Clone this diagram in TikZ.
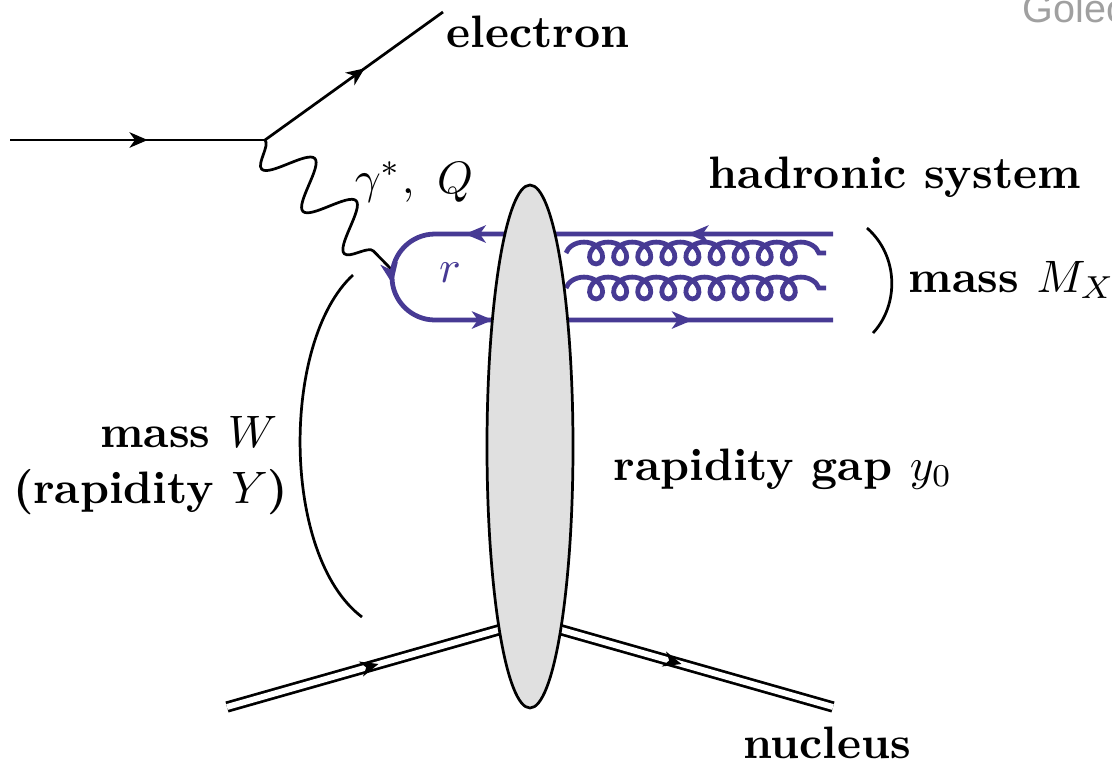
\documentclass[tikz,border=0pt]{standalone}
\usepackage{fontspec}
\newfontfamily\credfont{Liberation Sans}
\usetikzlibrary{arrows.meta,calc,positioning,decorations.pathmorphing,decorations.markings}
\definecolor{quark}{HTML}{473A94}
\definecolor{blob}{HTML}{E0E0E0}
\definecolor{credit}{HTML}{A0A0A0}
\tikzset{
 lep/.style={line width=.6pt},
 lab/.style={inner sep=0pt},
 midarr/.style={postaction={decorate},decoration={markings,mark=at position #1 with {\arrow{Stealth[length=4pt,width=3.4pt,inset=1.2pt]}}}},
 qline/.style={quark,line width=1.05pt},
 qarr/.style={postaction={decorate},decoration={markings,
  mark=at position 32pt with {\arrow{Stealth[length=4.6pt,width=3.8pt,inset=1.3pt]}},
  mark=at position 81pt with {\arrow{Stealth[length=4.6pt,width=3.8pt,inset=1.3pt]}},
  mark=at position 104pt with {\arrow{Stealth[length=4.6pt,width=3.8pt,inset=1.3pt]}},
  mark=at position 130pt with {\arrow{Stealth[length=4.6pt,width=3.8pt,inset=1.3pt]}},
  mark=at position 174pt with {\arrow{Stealth[length=4.6pt,width=3.8pt,inset=1.3pt]}}}},
 photon/.style={decorate,decoration={snake,mirror,segment length=13pt,amplitude=5pt}},
 gluon/.style={decorate,decoration={coil,aspect=1.1,segment length=5.3pt,amplitude=2.4pt}},
 nucl/.style={line width=.6pt,double=white,double distance=1.3pt}
}
\begin{document}
\begin{tikzpicture}[x=.22pt,y=.22pt,font=\bfseries]
 \useasboundingbox (0,0) rectangle (1112,761);
 \coordinate (ein) at (10,621); \coordinate (evtx) at (265,621); \coordinate (eout) at (443,749);
 \coordinate (gend) at (392,491);
 \coordinate (qtr) at (833,527); \coordinate (qtl) at (435,527); \coordinate (qbr) at (833,441);
 \coordinate (g1r) at (826,508); \coordinate (g1l) at (566,508);
 \coordinate (g2r) at (826,473); \coordinate (g2l) at (566,473);
 \coordinate (nin) at (227,54); \coordinate (nvtx) at (530,140); \coordinate (nout) at (833,54);
 \coordinate (blobc) at (530,314.5);
 \draw[lep,midarr=.54](ein)--(evtx);
 \draw[lep,midarr=.56](evtx)--(eout);
 \draw[lep,photon](evtx)--(gend);
 \draw[qline,qarr](qtr)--(qtl)arc[start angle=90,end angle=270,radius=43]--(qbr);
 \draw[qline,gluon](g1l)--(g1r);
 \draw[qline,gluon](g2l)--(g2r);
 \draw[nucl](nin)--(nvtx)--(nout);
 \path[midarr=.5](nin)--(nvtx);
 \path[midarr=.5](nvtx)--(nout);
 \filldraw[fill=blob,line width=.6pt](blobc)ellipse[x radius=43,y radius=261.5];
 \draw[lep](867,533)..controls(899,505)and(899,456)..(873,428);
 \draw[lep](353,486)..controls(281,420)and(281,205)..(362,144);
 \node[lab,anchor=base west](elab)at(446,714){electron};
 \node[lab,anchor=base,font=\normalfont](glab)at(414,568){$\gamma^*,\ Q$};
 \node[lab,anchor=base west](hlab)at(708,573){hadronic system};
 \node[lab,anchor=base west](mxlab)at(908,469){mass $M_X$};
 \node[lab,anchor=base,text=quark,font=\normalfont](rlab)at(450,479){$r$};
 \node[lab,anchor=base east](wlab)at(278,314){mass $W$};
 \node[lab,anchor=base east](ylab)at(289,258){(rapidity $Y$)};
 \node[lab,anchor=base west](gaplab)at(613,281){rapidity gap $y_0$};
 \node[lab,anchor=base](nlab)at(827,3){nucleus};
 \node[lab,anchor=base west,text=credit,font=\credfont\fontsize{8.7}{10}\selectfont](cred)at(1022,739){Golec};
\end{tikzpicture}
\end{document}
